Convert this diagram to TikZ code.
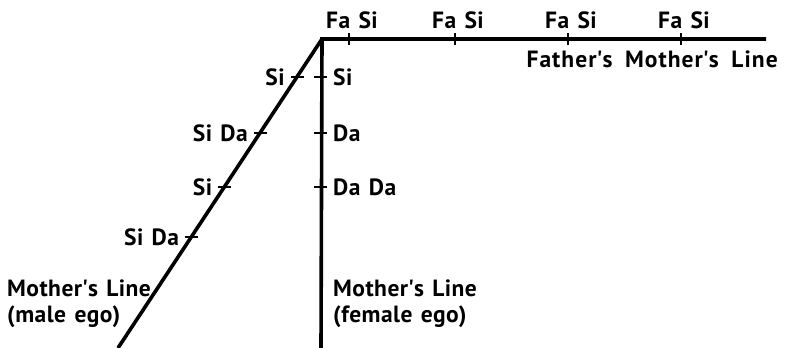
\documentclass[tikz,border=0pt]{standalone}
\usepackage{fontspec}
\setmainfont{PT Sans}[LetterSpace=2,WordSpace=1.3]
\newfontfamily\widefont{PT Sans}[LetterSpace=4.5,WordSpace=1.8]
\usetikzlibrary{calc}
\begin{document}
\begin{tikzpicture}[x=1pt,y=-1pt,
  mainline/.style={line width=3.6pt},
  tickmark/.style={line width=2.2pt},
  lbl/.style={inner sep=0pt,font=\bfseries\fontsize{23.5}{26}\selectfont},
  lblr/.style={lbl,anchor=west},
  lbll/.style={lbl,anchor=east}]
\useasboundingbox (0,0) rectangle (785,348);
% main lines
\coordinate (apex) at (322,39);
\coordinate (hend) at (766,39);
\coordinate (vend) at (321,348);
\coordinate (dend) at (118,348);
\draw[mainline,line cap=butt] (hend) -- (apex) -- (vend);
\draw[mainline] (apex) -- (dend);
% ticks on horizontal line
\foreach \n/\x in {h1/349,h2/455,h3/568,h4/681}{
  \coordinate (\n) at (\x,39);
  \draw[tickmark] ([yshift=-6pt]\n) -- ([yshift=6pt]\n);
  \node[lbl,anchor=base] at ([xshift=3pt,yshift=11pt]\n) {Fa Si};
}
\node[lbl,anchor=base east,font=\widefont\bfseries\fontsize{23.5}{26}\selectfont] (fml) at (778,67) {Father\textquotesingle s Mother\textquotesingle s Line};
% ticks on vertical line
\foreach \n/\y/\t in {v1/77/Si,v2/133/Da,v3/187/Da Da}{
  \coordinate (\n) at (321,\y);
  \draw[tickmark] ([xshift=-7pt]\n) -- ([xshift=6pt]\n);
  \node[lblr] at ([xshift=12pt]\n) {\t};
}
% ticks on diagonal
\foreach \n/\y/\t in {d1/77/Si,d2/133/Si Da,d3/187/Si,d4/237/Si Da}{
  \coordinate (\n) at ($(apex)!{(\y-39)/309}!(dend)$);
  \draw[tickmark] ([xshift=-6pt]\n) -- ([xshift=7pt]\n);
  \node[lbll] at ([xshift=-12pt]\n) {\t};
}
% bottom labels
\node[lbl,anchor=base west] (m1) at (7,296) {Mother\textquotesingle s Line};
\node[lbl,anchor=base west] (m2) at (7,322) {(male ego)};
\node[lbl,anchor=base west] (f1) at (333,296) {Mother\textquotesingle s Line};
\node[lbl,anchor=base west] (f2) at (333,322) {(female ego)};
\end{tikzpicture}
\end{document}
